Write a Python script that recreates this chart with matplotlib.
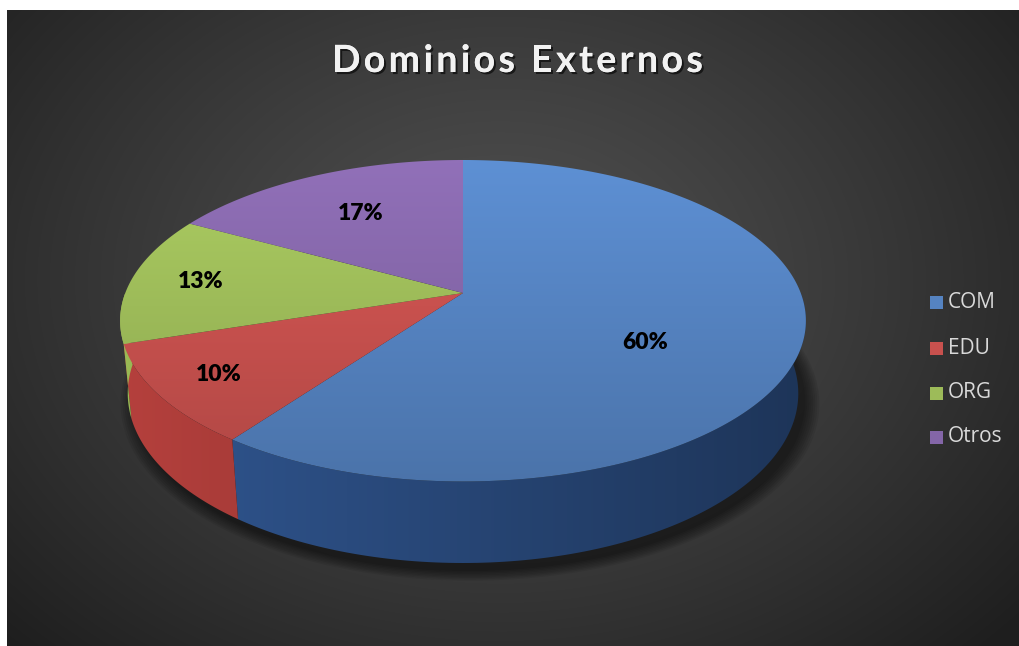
import numpy as np
import matplotlib
matplotlib.use('Agg')
import matplotlib.pyplot as plt
from matplotlib.patches import Polygon, Rectangle
from matplotlib.colors import to_rgb
import matplotlib.patheffects as pe

# datos
labels = ['COM', 'EDU', 'ORG', 'Otros']
shares = [60, 10, 13, 17]
top_colors = ['#5583c1', '#c8514e', '#9dbb59', '#8466a8']
side_colors = ['#2a4b7e', '#9e3835', '#86a24a', '#6a508c']
title = 'Dominios Externos'

W, H = 1019, 646
fig = plt.figure(figsize=(W / 100, H / 100), dpi=100)
fig.patch.set_facecolor('white')
ax = fig.add_axes([0, 0, 1, 1])
ax.axis('off')

# fondo con degradado radial
yy, xx = np.mgrid[10:H, 7:W]
rr = np.sqrt(((xx - 500) / 620.0) ** 2 + ((yy - 280) / 470.0) ** 2)
val = (80 - 44 * np.clip(rr, 0, 1.1) ** 1.2) / 255.0
ax.imshow(np.dstack([val, val, val]), extent=(7, W, H, 10), zorder=0, interpolation='bilinear')

# proyeccion 3D (perspectiva)
cx, cy = 463, 293
elev = np.radians(27.5)
cs, sn = np.cos(elev), np.sin(elev)
D, f, h = 5.14, 1736.0, 0.245


def proj(X, Y, Z):
    d = D + Y * cs - Z * sn
    return cx + f * X / d, cy - f * (Y * sn + Z * cs) / d


def arc(a0, a1, Z, r=1.0):
    n = max(int(abs(a1 - a0)), 2) + 1
    t = np.radians(np.linspace(a0, a1, n))
    return np.column_stack(proj(r * np.cos(t), r * np.sin(t), Z))


cum = np.concatenate([[0], np.cumsum(shares)])
ang0 = 90 - 3.6 * cum[:-1]
ang1 = 90 - 3.6 * cum[1:]

# sombra
bottom = arc(0, 360, -h)
for k in range(8):
    sc = 1 + 0.006 * k
    pts = (bottom - [cx, cy + 40]) * sc + [cx + 7, cy + 40 + 8]
    ax.add_patch(Polygon(pts, closed=True, facecolor='black', edgecolor='none',
                         alpha=0.07, zorder=1))

# laterales
gx = np.linspace(0, 1, 400)
for i in range(len(shares)):
    lo, hi = max(ang1[i], -180), min(ang0[i], 0)
    if hi <= lo:
        continue
    pts = np.vstack([arc(lo, hi, 0), arc(hi, lo, -h)])
    poly = Polygon(pts, closed=True, facecolor='none', edgecolor='none', zorder=2)
    ax.add_patch(poly)
    fac = 1.15 - 0.45 * gx
    img = np.clip(np.outer(np.ones(2), fac)[:, :, None] * np.array(to_rgb(side_colors[i])), 0, 1)
    im = ax.imshow(img, extent=(115, 810, 600, 250), zorder=2, aspect='auto')
    im.set_clip_path(poly)

# caras superiores
gy = np.linspace(0, 1, 400)
for i in range(len(shares)):
    pts = np.vstack([[proj(0, 0, 0)], arc(ang0[i], ang1[i], 0)])
    poly = Polygon(pts, closed=True, facecolor='none', edgecolor='none', zorder=3)
    ax.add_patch(poly)
    fac = 1.1 - 0.22 * gy
    img = np.clip(np.outer(fac, np.ones(2))[:, :, None] * np.array(to_rgb(top_colors[i])), 0, 1)
    im = ax.imshow(img, extent=(100, 830, 482, 160), zorder=3, aspect='auto')
    im.set_clip_path(poly)

# etiquetas de porcentaje
label_r = [0.55, 0.82, 0.79, 0.65]
for i, v in enumerate(shares):
    mid = np.radians((ang0[i] + ang1[i]) / 2)
    x, y = proj(label_r[i] * np.cos(mid), label_r[i] * np.sin(mid), 0)
    if i == 0:
        y += 22
    ax.text(x, y, f'{v}%', ha='center', va='center', fontsize=16.5, fontweight='heavy',
            family='Lato', color='black', zorder=5)

# leyenda
leg_y = [302, 348, 393, 437]
for i, lab in enumerate(labels):
    ax.add_patch(Rectangle((930, leg_y[i] - 6.5), 13, 13, facecolor=top_colors[i],
                           edgecolor='none', zorder=5))
    ax.text(948, leg_y[i], lab, ha='left', va='center', fontsize=15,
            family='Open Sans', color='#d9d9d9', zorder=5)

ax.set_xlim(0, W)
ax.set_ylim(H, 0)
ax.set_aspect('auto')

# titulo con espaciado entre letras
rend = fig.canvas.get_renderer()
tkw = dict(fontsize=27, fontweight='bold', family='Lato')


def width(s):
    t = ax.text(0, 0, s, **tkw)
    w = t.get_window_extent(rend).width
    t.remove()
    return w


w0 = width(title)
gap = (371 - w0) / (len(title) - 1)
for i, ch in enumerate(title):
    if ch == ' ':
        continue
    x = 332 + width(title[:i + 1]) - width(ch) + i * gap
    ax.text(x, 72, ch, ha='left', va='baseline', color='#f2f2f2', zorder=6,
            path_effects=[pe.withSimplePatchShadow(offset=(1.5, -1.5), shadow_rgbFace='black', alpha=0.6),
                          pe.Normal()], **tkw)

fig.savefig('out.png', dpi=100, facecolor='white')
